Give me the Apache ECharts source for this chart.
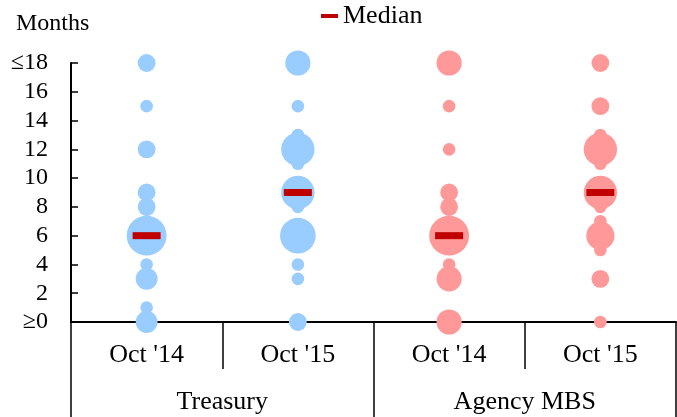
<!DOCTYPE html>
<html>
<head>
<meta charset="utf-8">
<script src="https://cdn.jsdelivr.net/npm/echarts@6/dist/echarts.min.js"></script>
<style>
  html, body { margin: 0; padding: 0; background: #fff; }
  #chart { width: 677px; height: 417px; }
</style>
</head>
<body>
<div id="chart"></div>
<script>
// categories on the x axis and the groups below them
const categories = ["Oct '14", "Oct '15", "Oct '14", "Oct '15"];
const groups = ["Treasury", "Agency MBS"];
const yTickLabels = ["≥0", "2", "4", "6", "8", "10", "12", "14", "16", "≤18"];

// [months, number of respondents]
const treasuryOct14 = [[18, 2], [15, 1], [12, 2], [9, 2], [8, 2], [7, 1], [6, 10], [4, 1], [3, 3], [1, 1], [0, 3]];
const treasuryOct15 = [[18, 4], [15, 1], [13, 1], [12, 7], [11, 1], [9, 7], [8, 1], [6, 8], [4, 1], [3, 1], [0, 2]];
const agencyOct14 = [[18, 4], [15, 1], [12, 1], [9, 2], [8, 2], [7, 1], [6, 10], [4, 1], [3, 4], [0, 4]];
const agencyOct15 = [[18, 2], [15, 2], [13, 1], [12, 7], [11, 1], [9, 7], [8, 1], [7, 1], [6, 5], [5, 1], [3, 2], [0, 1]];
const medians = [6, 9, 6, 9];

const font = "'Liberation Serif', 'Times New Roman', serif";

const toPoints = (arr, col) => arr.map(d => [col, d[0], d[1]]);
const bubbleSize = val => 12.6 * Math.sqrt(val[2]);

const myChart = echarts.init(document.getElementById("chart"));
myChart.setOption({
  animation: false,
  title: {
    text: "Months",
    left: 16,
    top: 12,
    padding: 0,
    textStyle: { fontFamily: font, fontSize: 24, fontWeight: "normal", color: "#000" },
  },
  legend: {
    data: ["Median"],
    left: 321,
    top: 3,
    padding: 0,
    icon: "rect",
    itemWidth: 17,
    itemHeight: 4,
    textStyle: { fontFamily: font, fontSize: 26, color: "#000" },
  },
  grid: { left: 71, right: 1, top: 63, bottom: 95 },
  xAxis: [
    {
      type: "category",
      data: categories,
      axisLine: { lineStyle: { color: "#000", width: 2 } },
      axisTick: { show: true, interval: 0, length: 47, lineStyle: { color: "#000", width: 1.5 } },
      axisLabel: { interval: 0, margin: 20, fontFamily: font, fontSize: 26, color: "#000" },
    },
    {
      type: "category",
      data: groups,
      position: "bottom",
      axisLine: { show: false },
      axisTick: { show: true, interval: 0, length: 95, lineStyle: { color: "#000", width: 1.5 } },
      axisLabel: { interval: 0, margin: 67, fontFamily: font, fontSize: 26, color: "#000" },
    },
  ],
  yAxis: {
    type: "value",
    min: 0,
    max: 18,
    interval: 2,
    splitLine: { show: false },
    axisLine: { show: true, lineStyle: { color: "#000", width: 2 } },
    axisTick: { show: true, inside: true, length: 7, lineStyle: { color: "#000", width: 1.5 } },
    axisLabel: {
      margin: 23,
      fontFamily: font,
      fontSize: 24,
      color: "#000",
      formatter: v => yTickLabels[v / 2],
    },
  },
  series: [
    {
      name: "Treasury",
      type: "scatter",
      clip: false,
      symbolSize: bubbleSize,
      itemStyle: { color: "#99CCFF", opacity: 1 },
      data: toPoints(treasuryOct14, 0).concat(toPoints(treasuryOct15, 1)),
    },
    {
      name: "Agency MBS",
      type: "scatter",
      clip: false,
      symbolSize: bubbleSize,
      itemStyle: { color: "#FF9999", opacity: 1 },
      data: toPoints(agencyOct14, 2).concat(toPoints(agencyOct15, 3)),
    },
    {
      name: "Median",
      type: "scatter",
      clip: false,
      z: 5,
      symbol: "rect",
      symbolSize: [28, 7],
      itemStyle: { color: "#C00000", opacity: 1 },
      data: medians.map((v, i) => [i, v]),
    },
  ],
});
window.addEventListener("resize", () => {
  myChart.resize();
});
</script>
</body>
</html>
